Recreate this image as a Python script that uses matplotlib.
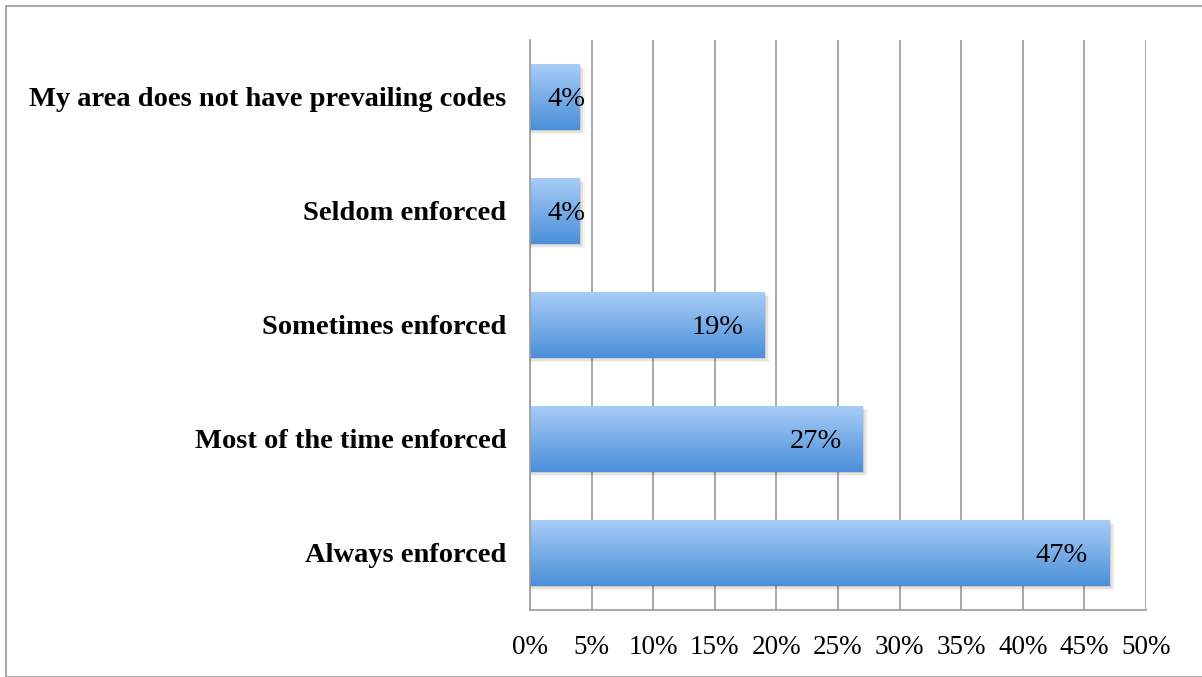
import matplotlib
matplotlib.use("Agg")
import matplotlib.pyplot as plt
import numpy as np
from matplotlib.patches import Rectangle
from matplotlib.colors import LinearSegmentedColormap

categories = ["Always enforced", "Most of the time enforced", "Sometimes enforced",
              "Seldom enforced", "My area does not have prevailing codes"]
values = [47, 27, 19, 4, 4]
value_labels = ["47%", "27%", "19%", "4%", "4%"]
xticks = [0, 5, 10, 15, 20, 25, 30, 35, 40, 45, 50]
xtick_labels = ["0%", "5%", "10%", "15%", "20%", "25%", "30%", "35%", "40%", "45%", "50%"]

W, H = 1202, 677
fig = plt.figure(figsize=(W / 100, H / 100), dpi=100)
fig.patch.set_facecolor("white")

# outer frame
fig.patches.append(Rectangle((6 / W, 0), 1.2, (H - 6) / H, transform=fig.transFigure,
                             fill=False, edgecolor="#999999", linewidth=1.2))

ax = fig.add_axes([530 / W, (H - 610) / H, (1146 - 530) / W, (610 - 40) / H])
ax.set_xlim(0, 50)
ax.set_ylim(-0.5, 4.5)

serif = ["Liberation Serif", "DejaVu Serif"]
grid_color = "#9a9a9a"
for t in xticks:
    ax.axvline(t, color=grid_color, linewidth=1.2, zorder=0)

cmap = LinearSegmentedColormap.from_list("bar", ["#4a8fd8", "#a9cdf8"])
grad = np.linspace(0, 1, 256).reshape(-1, 1)
bar_h = 0.58
for i, (v, lab) in enumerate(zip(values, value_labels)):
    # soft drop shadow
    for k, a in enumerate([0.10, 0.07, 0.04]):
        off = 0.15 + 0.15 * k
        ax.add_patch(Rectangle((0, i - bar_h / 2 - 0.012 * (k + 1)), v + off, bar_h,
                               facecolor="black", alpha=a, edgecolor="none", zorder=1))
    rect = Rectangle((0, i - bar_h / 2), v, bar_h, facecolor="none", edgecolor="none", zorder=2)
    ax.add_patch(rect)
    im = ax.imshow(grad, cmap=cmap, aspect="auto", origin="lower",
                   extent=(0, v, i - bar_h / 2, i + bar_h / 2), zorder=2)
    im.set_clip_path(rect)
    # inside-end label; short bars get the label anchored near the axis instead
    if v > 8:
        ax.text(v - 1.7, i - 0.02, lab, ha="right", va="center", fontsize=20.5,
                family=serif, color="black", zorder=3)
    else:
        ax.text(1.45, i - 0.02, lab, ha="left", va="center", fontsize=20.5,
                family=serif, color="black", zorder=3)

ax.set_yticks(range(len(categories)))
ax.set_yticklabels(categories, family=serif, fontweight="bold", fontsize=20.5)
ax.tick_params(axis="y", length=0, pad=17)
ax.set_xticks(xticks)
ax.set_xticklabels(xtick_labels, family=serif, fontsize=19.5)
ax.tick_params(axis="x", length=0, pad=18)

for s in ["top", "right"]:
    ax.spines[s].set_visible(False)
for s in ["left", "bottom"]:
    ax.spines[s].set_color(grid_color)
    ax.spines[s].set_linewidth(1.2)

fig.savefig("out.png", dpi=100)
